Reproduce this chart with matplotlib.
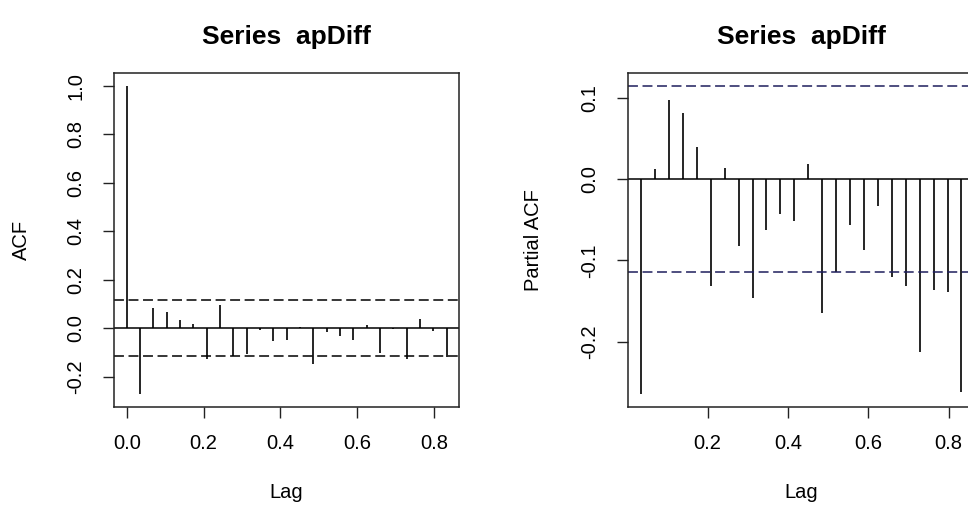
import numpy as np
import matplotlib
matplotlib.use("Agg")
import matplotlib.pyplot as plt

plt.rcParams['font.family'] = ['Liberation Sans', 'DejaVu Sans']

# ---- data ----
title_text = "Series  apDiff"
lag_step = 0.03467  # lag spacing (1/frequency)

acf_values = [1.000, -0.272, 0.085, 0.068, 0.033, 0.016, -0.125, 0.095, -0.114, -0.104,
              -0.007, -0.052, -0.048, 0.007, -0.148, -0.014, -0.032, -0.048, 0.012, -0.100,
              -0.003, -0.127, 0.037, -0.011, -0.118]
pacf_values = [-0.265, 0.012, 0.097, 0.081, 0.040, -0.132, 0.014, -0.082, -0.146, -0.063,
               -0.043, -0.052, 0.019, -0.165, -0.114, -0.057, -0.087, -0.033, -0.120, -0.132,
               -0.213, -0.136, -0.139, -0.262]
conf_limit = 0.115

acf_xticks = [0.0, 0.2, 0.4, 0.6, 0.8]
acf_yticks = [-0.2, 0.0, 0.2, 0.4, 0.6, 0.8, 1.0]
pacf_xticks = [0.2, 0.4, 0.6, 0.8]
pacf_yticks = [-0.2, -0.1, 0.0, 0.1]

acf_lags = np.arange(len(acf_values)) * lag_step
pacf_lags = np.arange(1, len(pacf_values) + 1) * lag_step

# ---- figure ----
W, H = 968, 508
fig = plt.figure(figsize=(W / 100, H / 100), dpi=100)

def r_lim(vals):
    lo, hi = min(vals), max(vals)
    ext = 0.04 * (hi - lo)
    return lo - ext, hi + ext

def style(ax, xticks, yticks):
    for sp in ax.spines.values():
        sp.set_linewidth(1.1)
        sp.set_color('#222222')
    ax.set_xticks(xticks)
    ax.set_xticklabels([f"{t:.1f}" for t in xticks])
    ax.set_yticks(yticks)
    ax.set_yticklabels([f"{t:.1f}" for t in yticks], rotation=90, va='center')
    ax.tick_params(axis='both', direction='out', length=7.7, width=1.0,
                   labelsize=14.5, colors='#222222')
    ax.tick_params(axis='x', pad=12)
    ax.tick_params(axis='y', pad=13)
    for lab in ax.get_xticklabels() + ax.get_yticklabels():
        lab.set_color('black')

def title(ax):
    ax.text(0.5, 1.109, title_text, transform=ax.transAxes, ha='center', va='center',
            fontsize=19, fontweight='bold')

# Left panel: ACF
ax1 = fig.add_axes([114 / W, 1 - 406.7 / H, 345.3 / W, 333.4 / H])
ax1.set_xlim(*r_lim(list(acf_lags)))
ax1.set_ylim(*r_lim(acf_values + [conf_limit, -conf_limit]))
ax1.vlines(acf_lags, 0, acf_values, colors='black', linewidth=1.2)
ax1.axhline(0, color='black', linewidth=1.1)
for c in (conf_limit, -conf_limit):
    ax1.axhline(c, color='black', linewidth=1.1, linestyle=(0, (6.5, 3.0)))
style(ax1, acf_xticks, acf_yticks)
title(ax1)
ax1.set_xlabel('Lag', fontsize=14.5, va='center')
ax1.xaxis.set_label_coords(0.5, -0.256)
ax1.set_ylabel('ACF', fontsize=14.5, va='center')
ax1.yaxis.set_label_coords(-0.269, 0.5)

# Right panel: PACF
pacf_xlim = r_lim(list(pacf_lags))
scale = 401.7
ax2 = fig.add_axes([628.3 / W, 1 - 406.7 / H, (pacf_xlim[1] - pacf_xlim[0]) * scale / W, 333.4 / H])
ax2.set_xlim(*pacf_xlim)
ax2.set_ylim(*r_lim(pacf_values + [conf_limit, -conf_limit]))
ax2.vlines(pacf_lags, 0, pacf_values, colors='black', linewidth=1.2)
ax2.axhline(0, color='black', linewidth=1.1)
for c in (conf_limit, -conf_limit):
    ax2.axhline(c, color='#1e1e5c', linewidth=1.1, linestyle=(0, (6.5, 3.0)))
style(ax2, pacf_xticks, pacf_yticks)
title(ax2)
ax2.set_xlabel('Lag', fontsize=14.5, va='center')
ax2.xaxis.set_label_coords(0.5, -0.256)
ax2.set_ylabel('Partial ACF', fontsize=14.5, va='center')
ax2.yaxis.set_label_coords(-0.275, 0.5)

fig.savefig('out.png', dpi=100)
